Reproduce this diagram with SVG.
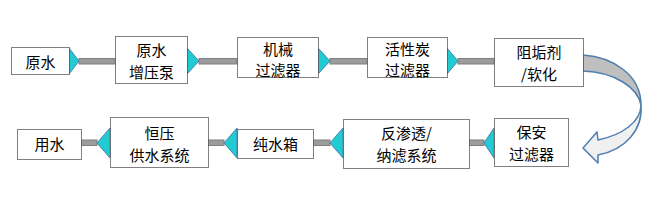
<svg xmlns="http://www.w3.org/2000/svg" width="662" height="201" viewBox="0 0 662 201">
<style>
.box{fill:#fff;stroke:#000;stroke-width:1;stroke-dasharray:1 1}
.t{font-family:"Noto Sans CJK SC","Microsoft YaHei",sans-serif;font-size:15px;fill:#000;text-anchor:middle;dominant-baseline:central}
.bar{fill:#9c9c9c;stroke:#7f7f7f;stroke-width:1}
.tri{fill:#21cbd2;stroke:#4f7eb0;stroke-width:1}
.arr{stroke:#4f7eb0;stroke-width:1.5;stroke-linejoin:round}
</style>
<rect width="662" height="201" fill="#fff"/>
<g id="connectors">
<rect class="bar" x="79" y="58.5" width="36" height="5.5"/>
<polygon class="tri" points="69,48 79,61 69,74"/>
<rect class="bar" x="199" y="58.5" width="38" height="5.5"/>
<polygon class="tri" points="187,48 199,61 187,74"/>
<rect class="bar" x="330" y="58.5" width="37" height="5.5"/>
<polygon class="tri" points="318,48 330,61 318,74"/>
<rect class="bar" x="458" y="58.5" width="36" height="5.5"/>
<polygon class="tri" points="447,48 458,61 447,74"/>
<rect class="bar" x="469" y="140" width="15" height="5.5"/>
<polygon class="tri" points="494,128 484,143 494,158"/>
<rect class="bar" x="313" y="140" width="17" height="5.5"/>
<polygon class="tri" points="343,128 330,143 343,158"/>
<rect class="bar" x="208" y="140" width="16" height="5.5"/>
<polygon class="tri" points="237,128 224,143 237,158"/>
<rect class="bar" x="81" y="140" width="16" height="5.5"/>
<polygon class="tri" points="110,128 97,143 110,158"/>
<path class="arr" fill="#f0f0f0" d="M641,105 C641,122 622,135 598,140 L597,132 L583,148 L598,163 L598,155 C625,150 643,130 641,105 Z"/>
<path class="arr" fill="#bfbfbf" d="M583,55 C613,57 641,75 641,105 C638,88 615,72 583,71 Z"/>
</g>
<g id="n1"><rect class="box" x="11.5" y="47.5" width="58" height="27"/><text class="t" x="40.5" y="61.5">原水</text></g>
<g id="n2"><rect class="box" x="115.5" y="36.5" width="72" height="47"/><text class="t" x="151.5" y="49.5">原水</text><text class="t" x="151.5" y="71">增压泵</text></g>
<g id="n3"><rect class="box" x="237.5" y="37.5" width="81" height="40"/><text class="t" x="278" y="48">机械</text><text class="t" x="278" y="69">过滤器</text></g>
<g id="n4"><rect class="box" x="367.5" y="37.5" width="80" height="40"/><text class="t" x="407.5" y="48">活性炭</text><text class="t" x="407.5" y="69">过滤器</text></g>
<g id="n5"><rect class="box" x="494.5" y="38.5" width="89" height="48"/><text class="t" x="539" y="51.5">阻垢剂</text><text class="t" x="539" y="73">/软化</text></g>
<g id="n6"><rect class="box" x="494.5" y="118.5" width="74" height="48"/><text class="t" x="531.5" y="131.5">保安</text><text class="t" x="531.5" y="153">过滤器</text></g>
<g id="n7"><rect class="box" x="343.5" y="119.5" width="126" height="49"/><text class="t" x="406.5" y="132.5">反渗透/</text><text class="t" x="406.5" y="154">纳滤系统</text></g>
<g id="n8"><rect class="box" x="237.5" y="129.5" width="76" height="29"/><text class="t" x="275.5" y="143">纯水箱</text></g>
<g id="n9"><rect class="box" x="110.5" y="117.5" width="98" height="50"/><text class="t" x="159.5" y="132.5">恒压</text><text class="t" x="159.5" y="154">供水系统</text></g>
<g id="n10"><rect class="box" x="17.5" y="129.5" width="64" height="30"/><text class="t" x="49.5" y="143">用水</text></g>
</svg>
